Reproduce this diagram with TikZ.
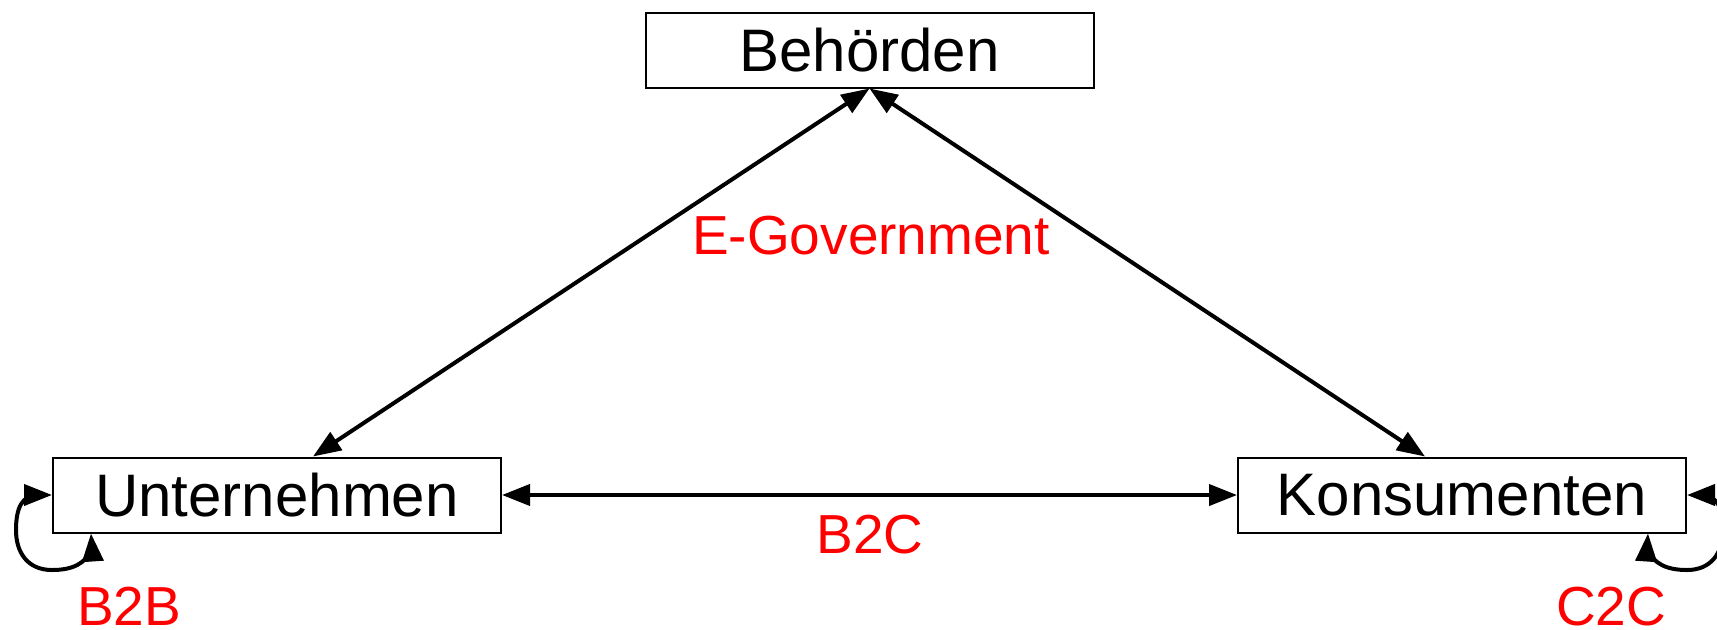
\documentclass[tikz,border=0pt]{standalone}
\usepackage{fontspec}
\setmainfont{Liberation Sans}
\usetikzlibrary{arrows.meta}
\begin{document}
\begin{tikzpicture}[x=0.5pt,y=-0.5pt,
  box/.style={draw,line width=1pt,minimum width=224pt,minimum height=37.5pt,inner sep=0pt,font=\fontsize{30}{36}\selectfont},
  lbl/.style={text=red,font=\fontsize{27.5}{33}\selectfont,anchor=base,inner sep=0pt},
  conn/.style={line width=2pt,{Triangle[length=14pt,width=10.5pt]}-{Triangle[length=14pt,width=10.5pt]}}]
\useasboundingbox (0,0) rectangle (1717,629);
\node[box] (b) at (869.5,50) {Behörden};
\node[box] (u) at (277,495) {Unternehmen};
\node[box] (k) at (1462,495) {Konsumenten};
\coordinate (ut) at ([xshift=18pt]u.north);
\coordinate (kt) at ([xshift=-18.5pt]k.north);
\coordinate (ub) at ([xshift=19.5pt]u.south west);
\coordinate (kb) at ([xshift=-19.5pt]k.south east);
\draw[conn] (b.south) -- (ut);
\draw[conn] (b.south) -- (kt);
\draw[conn] (u.east) -- (k.west);
\draw[conn] (ub) -- (92,548) .. controls (86,564) and (72,570) .. (52,570) .. controls (28,570) and (16,553) .. (16,530) .. controls (16,508) and (22,495) .. (38,495) -- (u.west);
\draw[conn] (kb) -- (1647,548) .. controls (1653,564) and (1667,570) .. (1687,570) .. controls (1711,570) and (1723,553) .. (1723,530) .. controls (1723,508) and (1717,495) .. (1701,495) -- (k.east);
\node[lbl] (eg) at (871,254) {E-Government};
\node[lbl] (b2c) at (870,553) {B2C};
\node[lbl] (b2b) at (129,625) {B2B};
\node[lbl] (c2c) at (1611,625) {C2C};
\end{tikzpicture}
\end{document}
